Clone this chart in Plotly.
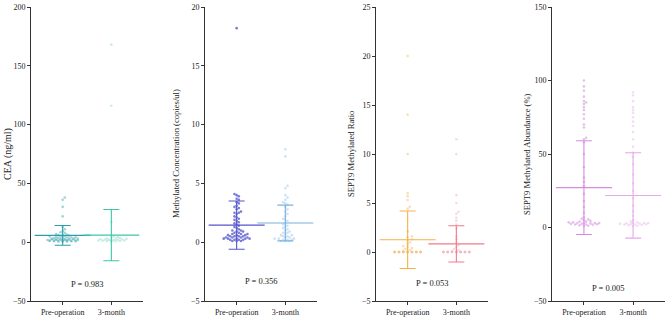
import plotly.graph_objects as go

groups = ["Pre-operation", "3-month"]

cea_pre = [38, 36, 30, 22, 13, 11, 9.5, 8.5, 8, 7, 6.5, 6, 6, 5.5, 5, 5, 4.8, 4.5, 4.2, 4, 4, 3.8, 3.5, 3.5,
           3.2, 3, 3, 3, 2.8, 2.6, 2.5, 2.5, 2.3, 2.2, 2, 2, 2, 1.9, 1.8, 1.7, 1.6, 1.5, 1.5, 1.4, 1.3, 1.2,
           1.1, 1, 1, 0.9, 0.8, 0.8, 0.7, 0.6, 0.5]
cea_3m = [168, 116, 17, 5, 4.5, 4, 3.5, 3.2, 3, 2.8, 2.5, 2.3, 2.2, 2, 2, 1.8, 1.6, 1.5, 1.4, 1.2, 1, 1, 0.8, 0.7]
cea_mean = [5.8, 6.0]
cea_sd = [8.4, 21.8]

conc_pre = [18.2, 4.1, 4.0, 3.9, 3.7, 3.6, 3.4, 3.3, 3.1, 3.0, 2.9, 2.8, 2.6, 2.5, 2.5, 2.4, 2.2, 2.1, 2.0, 1.9,
            1.8, 1.7, 1.6, 1.5, 1.4, 1.3, 1.2, 1.1, 1.0, 1.0, 0.9, 0.9, 0.8, 0.8, 0.7, 0.7, 0.7, 0.6, 0.6, 0.6,
            0.5, 0.5, 0.5, 0.5, 0.4, 0.4, 0.4, 0.4, 0.3, 0.3, 0.3, 0.3, 0.3, 0.2, 0.2, 0.2, 0.2, 0.1, 0.1, 0.1]
conc_3m = [7.9, 7.3, 4.8, 4.6, 4.0, 3.8, 3.6, 3.4, 3.3, 3.2, 3.0, 2.8, 2.6, 2.4, 2.2, 2.0, 1.9, 1.8, 1.6, 1.5,
           1.4, 1.3, 1.2, 1.1, 1.0, 0.9, 0.8, 0.8, 0.7, 0.6, 0.6, 0.5, 0.5, 0.4, 0.4, 0.3, 0.3, 0.3, 0.2, 0.2,
           0.2, 0.1, 0.1, 0.1]
conc_mean = [1.45, 1.63]
conc_sd = [2.05, 1.52]

ratio_pre = [20, 14, 10, 6.0, 5.7, 5.3, 4.6, 4.4, 2.1, 1.6, 1.5, 1.3, 1.2, 1.0, 0.8, 0.6, 0.5, 0.4, 0.3, 0.2, 0.1] + [0] * 30
ratio_3m = [11.5, 10, 5.8, 5.0, 4.1, 3.9, 3.5, 3.2, 2.8, 2.4, 1.6, 1.3, 1.0, 0.7, 0.5, 0.3, 0.2, 0.1] + [0] * 30
ratio_mean = [1.25, 0.83]
ratio_sd = [2.93, 1.85]

abund_pre = [100, 96, 93, 89, 86, 85, 84, 82, 80, 77, 74, 70, 68, 61, 60, 58, 50, 41, 34, 31, 28, 23, 18, 14, 10,
             7, 6, 5.5, 5, 4.5, 4, 4, 3.5, 3.5, 3, 3, 3, 3, 2.8, 2.5, 2.5, 2.2, 2, 2, 1.8, 1.5, 1.2, 1]
abund_3m = [92, 90, 86, 82, 80, 78, 75, 72, 69, 65, 60, 55, 51, 48, 43, 36, 30, 25, 20, 15, 11, 8, 5, 4, 3.5,
            3.2, 3, 3, 2.8, 2.6, 2.5, 2.3, 2.2, 2, 2, 1.8, 1.5, 1.2, 1]
abund_mean = [27.1, 21.8]
abund_sd = [31.9, 29.0]

p_values = ["P = 0.983", "P = 0.356", "P = 0.053", "P = 0.005"]
y_titles = ["CEA (ng/ml)", "Methylated Concentration (copies/ul)", "SEPT9 Methylated Ratio",
            "SEPT9 Methylated Abundance (%)"]
y_ranges = [[-50, 200], [-5, 20], [-5, 25], [-50, 150]]
y_dticks = [50, 5, 5, 50]
p_y = [-35.5, -3.3, -3.2, -41]

panels = [
    (cea_pre, cea_3m, cea_mean, cea_sd, ["#2a9faa", "#3cc6aa"], ["#5fb8c0", "#84d8c4"], [0.6, 0.45]),
    (conc_pre, conc_3m, conc_mean, conc_sd, ["#5555cc", "#7ab2e0"], ["#5a5ad0", "#a2cbec"], [0.8, 0.55]),
    (ratio_pre, ratio_3m, ratio_mean, ratio_sd, ["#f2b24a", "#f07a8a"], ["#f3c27a", "#f3b4bd"], [0.55, 0.5]),
    (abund_pre, abund_3m, abund_mean, abund_sd, ["#d98be2", "#e6a8ee"], ["#d696e0", "#e8bcee"], [0.6, 0.5]),
]

W, H = 669, 320
x_domains = [[31 / W, 143 / W], [205 / W, 317 / W], [376 / W, 488 / W], [552 / W, 665 / W]]
y_domain = [1 - 301 / H, 1 - 7 / H]
title_x = [8 / W, 176 / W, 351 / W, 527 / W]
x_range = [-0.65, 1.65]
px_per_x = 112 / (x_range[1] - x_range[0])
plot_h = 294


def swarm(vals, center, px_per_y, dot=2.4, maxpx=17):
    order = sorted(range(len(vals)), key=lambda i: vals[i])
    placed = []
    xs = [0.0] * len(vals)
    step = dot * 0.9
    cands = [0.0]
    k = 1
    while k * step <= maxpx:
        cands += [k * step, -k * step]
        k += 1
    for i in order:
        ypx = vals[i] * px_per_y
        best, best_c = 0.0, None
        for c in cands:
            col = sum(1 for (px, py) in placed if (px - c) ** 2 + (py - ypx) ** 2 < dot * dot)
            if best_c is None or col < best_c:
                best, best_c = c, col
            if col == 0:
                break
        placed.append((best, ypx))
        xs[i] = center + best / px_per_x
    return xs


fig = go.Figure()
font = "Liberation Serif, Times New Roman, serif"

for p, (pre, post, means, sds, lcols, mcols, ops) in enumerate(panels):
    ax = "" if p == 0 else str(p + 1)
    px_per_y = plot_h / (y_ranges[p][1] - y_ranges[p][0])
    for g, vals in enumerate([pre, post]):
        xs = swarm(vals, g, px_per_y)
        fig.add_trace(go.Scatter(
            x=xs, y=vals, mode="markers", xaxis="x" + ax, yaxis="y" + ax, showlegend=False,
            marker=dict(size=2.6, color=mcols[g], opacity=ops[g], line=dict(width=0)),
            hoverinfo="y"))
        fig.add_trace(go.Scatter(
            x=[g], y=[means[g]], mode="markers", xaxis="x" + ax, yaxis="y" + ax, showlegend=False,
            marker=dict(symbol="line-ew-open", size=40, color=lcols[g], line=dict(width=1.1, color=lcols[g])),
            error_y=dict(type="data", array=[sds[g]], visible=True, color=lcols[g], thickness=1.1, width=8),
            hoverinfo="y"))
    fig.update_layout(**{
        "xaxis" + ax: dict(domain=x_domains[p], range=x_range, tickvals=[0, 1], ticktext=groups,
                           showline=True, linecolor="#333", linewidth=1, ticks="outside", ticklen=3,
                           tickcolor="#333", showgrid=False, zeroline=False, anchor="y" + ax,
                           automargin=False,
                           tickfont=dict(family=font, size=8, color="#222")),
        "yaxis" + ax: dict(domain=y_domain, range=y_ranges[p], dtick=y_dticks[p], tick0=0,
                           showline=True, linecolor="#333", linewidth=1, ticks="outside", ticklen=3,
                           tickcolor="#333", showgrid=False, zeroline=False, anchor="x" + ax,
                           automargin=False,
                           tickfont=dict(family=font, size=8, color="#222")),
    })
    fig.add_annotation(x=0.5, y=p_y[p], xref="x" + ax, yref="y" + ax, text=p_values[p], showarrow=False,
                       font=dict(family=font, size=8.5, color="#222"))
    fig.add_annotation(x=title_x[p], y=(y_domain[0] + y_domain[1]) / 2, xref="paper", yref="paper",
                       text=y_titles[p], textangle=-90, showarrow=False, xanchor="center", yanchor="middle",
                       font=dict(family=font, size=10 if p == 0 else 8.6, color="#222"))

fig.update_layout(width=W, height=H, margin=dict(l=0, r=0, t=0, b=0, autoexpand=False),
                  paper_bgcolor="white", plot_bgcolor="white")
fig.write_html("out.html", config={"displayModeBar": False},
               post_script="document.body.style.margin='0px';")
